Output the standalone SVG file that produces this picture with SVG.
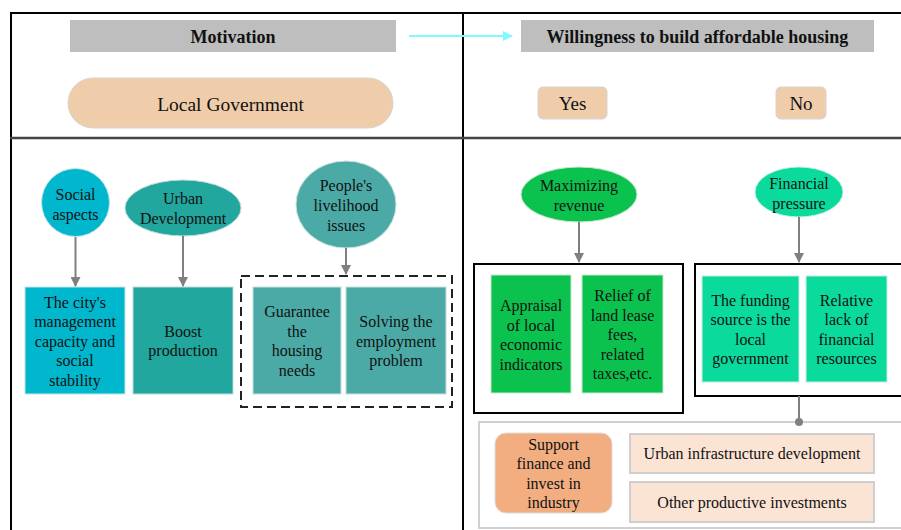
<svg xmlns="http://www.w3.org/2000/svg" width="901" height="530" viewBox="0 0 901 530">
<defs>
<style>
text{font-family:"Liberation Serif","Times New Roman",serif;fill:#111;text-anchor:middle;dominant-baseline:central}
.t{font-size:16px}
.h{font-size:18px;font-weight:bold}
.frame{stroke:#000;stroke-width:2;fill:none}
.hdr{fill:#bebebe}
.pill{fill:#f0cdaa;stroke:#d4d4d4;stroke-width:1}
.cyan{fill:#00b7cd;stroke:#c8e4e8;stroke-width:1}
.teal{fill:#21a79d;stroke:#c0dcda;stroke-width:1}
.teal2{fill:#4caaa6;stroke:#c8e0de;stroke-width:1}
.green{fill:#0cc24f;stroke:#c8e8cf;stroke-width:1}
.mint{fill:#0adb9c;stroke:#c8ece2;stroke-width:1}
.conn{stroke:#808080;stroke-width:2;fill:none}
.blk{stroke:#000;stroke-width:2;fill:none}
</style>
<marker id="ag" viewBox="0 0 10 10" refX="9" refY="5" markerWidth="5" markerHeight="5" orient="auto" markerUnits="strokeWidth"><path d="M0,0 L10,5 L0,10 z" fill="#808080"/></marker>
<marker id="ac" viewBox="0 0 10 10" refX="9" refY="5" markerWidth="5" markerHeight="5" orient="auto" markerUnits="strokeWidth"><path d="M0,0 L10,5 L0,10 z" fill="#7ffbff"/></marker>
</defs>
<rect width="901" height="530" fill="#fff"/>
<g id="frame">
<line x1="10" y1="13" x2="901" y2="13" class="frame"/>
<line x1="11" y1="12" x2="11" y2="530" class="frame" stroke="#333"/>
<line x1="463" y1="12" x2="463" y2="530" class="frame"/>
<line x1="10" y1="138" x2="901" y2="138" stroke="#444" stroke-width="2.5"/>
</g>
<g id="motivation"><rect x="70" y="20" width="326" height="32" class="hdr"/><text x="233" y="37" class="h">Motivation</text></g>
<g id="willingness"><rect x="521" y="20" width="353" height="32" class="hdr"/><text x="697.5" y="37" class="h">Willingness to build affordable housing</text></g>
<g id="local-government"><rect x="68" y="78" width="325" height="50" rx="25" class="pill"/><text x="230.5" y="104" font-size="19.5">Local Government</text></g>
<g id="yes"><rect x="538" y="87" width="69" height="32" rx="5" class="pill"/><text x="572.5" y="103.5" font-size="19">Yes</text></g>
<g id="no"><rect x="776" y="87" width="50" height="32" rx="5" class="pill"/><text x="801" y="103.5" font-size="19">No</text></g>

<g id="social-aspects"><circle cx="75.5" cy="202.5" r="34" class="cyan"/><text class="t" x="75.5" y="194">Social</text><text class="t" x="75.5" y="214">aspects</text></g>
<g id="urban-development"><ellipse cx="183" cy="208" rx="58" ry="28" class="teal"/><text class="t" x="183" y="198">Urban</text><text class="t" x="183" y="218">Development</text></g>
<g id="peoples-livelihood"><ellipse cx="346" cy="204.5" rx="50" ry="43.5" class="teal2"/><text class="t" x="346" y="185">People's</text><text class="t" x="346" y="205">livelihood</text><text class="t" x="346" y="225">issues</text></g>

<g id="city-management"><rect x="25" y="287" width="100" height="107" class="cyan"/>
<text class="t" x="75" y="302">The city's</text><text class="t" x="75" y="321.5">management</text><text class="t" x="75" y="341">capacity and</text><text class="t" x="75" y="360.5">social</text><text class="t" x="75" y="380">stability</text></g>
<g id="boost-production"><rect x="133" y="287" width="100" height="107" class="teal"/><text class="t" x="183" y="331">Boost</text><text class="t" x="183" y="350.5">production</text></g>
<g id="livelihood-group"><rect x="241" y="276" width="211" height="131" fill="none" stroke="#222" stroke-width="2" stroke-dasharray="9,5"/></g>
<g id="guarantee-housing"><rect x="253" y="287" width="88" height="107" class="teal2"/>
<text class="t" x="297" y="311.5">Guarantee</text><text class="t" x="297" y="331">the</text><text class="t" x="297" y="350.5">housing</text><text class="t" x="297" y="370">needs</text></g>
<g id="solving-employment"><rect x="346" y="287" width="100" height="107" class="teal2"/>
<text class="t" x="396" y="321.5">Solving the</text><text class="t" x="396" y="341">employment</text><text class="t" x="396" y="360.5">problem</text></g>

<g id="maximizing-revenue"><ellipse cx="579" cy="194.5" rx="58" ry="27.5" class="green"/><text class="t" x="579" y="185">Maximizing</text><text class="t" x="579" y="205">revenue</text></g>
<g id="financial-pressure"><ellipse cx="799" cy="192" rx="44" ry="25" class="mint"/><text class="t" x="799" y="183">Financial</text><text class="t" x="799" y="203">pressure</text></g>

<g id="revenue-group"><rect x="474" y="264" width="209" height="149" class="blk"/></g>
<g id="appraisal"><rect x="491" y="275" width="80" height="118" class="green"/>
<text class="t" x="531" y="305.5">Appraisal</text><text class="t" x="531" y="325">of local</text><text class="t" x="531" y="344.5">economic</text><text class="t" x="531" y="364">indicators</text></g>
<g id="relief"><rect x="582" y="275" width="81" height="118" class="green"/>
<text class="t" x="622.5" y="295">Relief of</text><text class="t" x="622.5" y="315">land lease</text><text class="t" x="622.5" y="334.5">fees,</text><text class="t" x="622.5" y="354">related</text><text class="t" x="622.5" y="373.5">taxes,etc.</text></g>

<g id="pressure-group"><rect x="695" y="264" width="215" height="132" class="blk"/></g>
<g id="funding-source"><rect x="702" y="276" width="97" height="106" class="mint"/>
<text class="t" x="750.5" y="300">The funding</text><text class="t" x="750.5" y="319.5">source is the</text><text class="t" x="750.5" y="339">local</text><text class="t" x="750.5" y="358.5">government</text></g>
<g id="relative-lack"><rect x="806" y="276" width="81" height="106" class="mint"/>
<text class="t" x="846.5" y="300">Relative</text><text class="t" x="846.5" y="319.5">lack of</text><text class="t" x="846.5" y="339">financial</text><text class="t" x="846.5" y="358.5">resources</text></g>

<g id="support-group"><rect x="479" y="422" width="430" height="106" fill="#fff" stroke="#d0d0d0" stroke-width="2"/></g>
<g id="support-finance"><rect x="495" y="433" width="117" height="80" rx="11" fill="#f2ae80" stroke="#ddd" stroke-width="1"/>
<text class="t" x="553.5" y="444">Support</text><text class="t" x="553.5" y="463.5">finance and</text><text class="t" x="553.5" y="483">invest in</text><text class="t" x="553.5" y="502.5">industry</text></g>
<g id="urban-infrastructure"><rect x="630" y="434" width="244" height="39" fill="#fce4d4" stroke="#cfcfcf" stroke-width="2"/><text class="t" x="752" y="453.5">Urban infrastructure development</text></g>
<g id="other-investments"><rect x="630" y="482" width="244" height="40" fill="#fce4d4" stroke="#cfcfcf" stroke-width="2"/><text class="t" x="752" y="502">Other productive investments</text></g>

<g id="connectors">
<line x1="409" y1="36" x2="512" y2="36" stroke="#7ffbff" stroke-width="2" marker-end="url(#ac)"/>
<line x1="75.5" y1="237" x2="75.5" y2="286" class="conn" marker-end="url(#ag)"/>
<line x1="183" y1="236" x2="183" y2="286" class="conn" marker-end="url(#ag)"/>
<line x1="346" y1="248" x2="346" y2="274" class="conn" marker-end="url(#ag)"/>
<line x1="579" y1="222" x2="579" y2="262" class="conn" marker-end="url(#ag)"/>
<line x1="799" y1="217" x2="799" y2="262" class="conn" marker-end="url(#ag)"/>
<line x1="799" y1="396" x2="799" y2="422" class="conn"/>
<circle cx="799" cy="422" r="4" fill="#808080"/>
</g>
</svg>
